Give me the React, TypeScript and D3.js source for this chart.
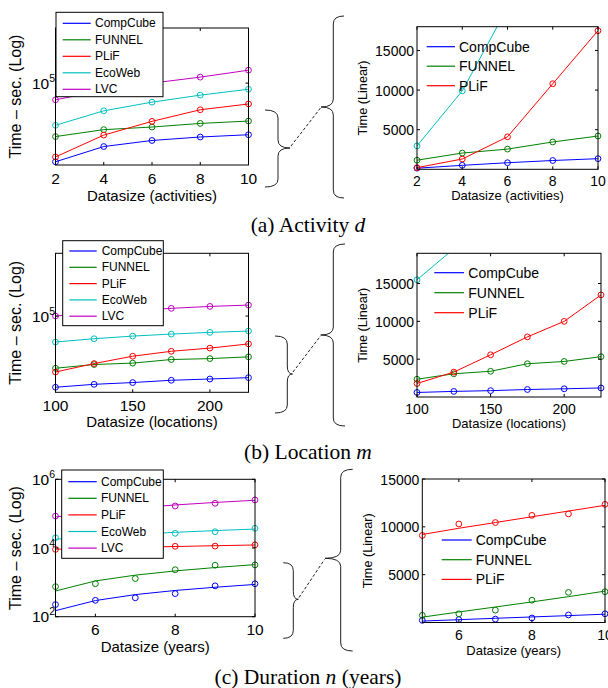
import * as d3 from "d3";
import { useEffect, useRef } from "react";

const seriesNames = ["CompCube", "FUNNEL", "PLiF", "EcoWeb", "LVC"];
const seriesColors = ["#0000ff", "#008000", "#ff0000", "#00bfbf", "#bf00bf"];

// (a) Activity d
const activityX = [2, 4, 6, 8, 10];
const activityCompCube = [140, 500, 830, 1110, 1340];
const activityFunnel = [1150, 2050, 2550, 3450, 4200];
const activityPlif = [210, 1300, 4100, 10800, 17500];
const activityEcoWeb = [2950, 9900, 20400, 36600, 60000];
const activityLvc = [24800, 55000, 100000, 165000, 295000];

// (b) Location m
const locationX = [100, 125, 150, 175, 200, 225];
const locationCompCube = [600, 740, 840, 990, 1085, 1195];
const locationFunnel = [2350, 3070, 3400, 4400, 4700, 5330];
const locationPlif = [1790, 3290, 5580, 7950, 10000, 13500];
const locationEcoWeb = [15500, 19600, 23700, 27400, 30900, 34000];
const locationLvc = [100000, 125000, 150000, 174000, 200000, 220000];

// (c) Duration n (years): measured points + fitted lines
const durationX = [5, 6, 7, 8, 9, 10];
const durationCompCube = [225, 300, 355, 470, 790, 910];
const durationFunnel = [750, 910, 1290, 2330, 3150, 3220];
const durationPlif = [9100, 10300, 10450, 11200, 11350, 12350];
const durationEcoWeb = [19900, 22000, 25000, 26800, 29800, 37400];
const durationLvc = [85000, 110000, 140000, 167000, 200000, 251000];
const durationCompCubeFit = [150, 295, 440, 580, 720, 870];
const durationFunnelFit = [560, 1100, 1620, 2150, 2700, 3280];
const durationPlifFit = [9200, 9850, 10450, 11050, 11650, 12250];
const durationEcoWebFit = [18000, 21500, 25000, 28600, 32100, 35700];
const durationLvcFit = [80000, 113000, 146000, 179000, 212000, 245000];

const activityTicks = [2, 4, 6, 8, 10];
const locationTicks = [100, 150, 200];
const durationTicks = [6, 8, 10];
const logTicksAB = [1e5];
const logTicksC = [1e2, 1e4, 1e6];
const linearTicks = [5000, 10000, 15000];

const FONT = "'Liberation Sans', Arial, Helvetica, sans-serif";
const SERIF = "'Liberation Serif', 'Times New Roman', serif";

const makeSeries = (vals, fits?) =>
  vals.map((v, i) => ({
    name: seriesNames[i],
    color: seriesColors[i],
    values: v,
    fit: fits ? fits[i] : null,
  }));

function drawPanel(svg, p) {
  const x = d3.scaleLinear().domain(p.xDomain).range([p.left, p.right]);
  const y = p.log
    ? d3.scaleLog().domain(p.yDomain).range([p.bottom, p.top])
    : d3.scaleLinear().domain(p.yDomain).range([p.bottom, p.top]);
  const w = p.right - p.left;
  const h = p.bottom - p.top;

  const defs = svg.append("defs");
  defs
    .append("clipPath")
    .attr("id", `${p.id}-lines`)
    .append("rect")
    .attr("x", p.left)
    .attr("y", p.top)
    .attr("width", w)
    .attr("height", h);
  defs
    .append("clipPath")
    .attr("id", `${p.id}-marks`)
    .append("rect")
    .attr("x", p.left - 5)
    .attr("y", p.top - 5)
    .attr("width", w + 10)
    .attr("height", h + 10);

  const g = svg.append("g");
  const line = d3
    .line()
    .x((d) => x(d.x))
    .y((d) => y(d.y));

  p.series.forEach((s) => {
    const pts = p.xValues.map((v, i) => ({ x: v, y: s.values[i] }));
    const linePts = s.fit
      ? p.xValues.map((v, i) => ({ x: v, y: s.fit[i] }))
      : pts;
    g.append("path")
      .datum(linePts)
      .attr("clip-path", `url(#${p.id}-lines)`)
      .attr("d", line)
      .attr("fill", "none")
      .attr("stroke", s.color)
      .attr("stroke-width", 1);
    g.append("g")
      .attr("clip-path", `url(#${p.id}-marks)`)
      .selectAll("circle")
      .data(pts.filter((d) => d.y >= p.yDomain[0] && d.y <= p.yDomain[1]))
      .join("circle")
      .attr("cx", (d) => x(d.x))
      .attr("cy", (d) => y(d.y))
      .attr("r", 2.9)
      .attr("fill", "none")
      .attr("stroke", s.color)
      .attr("stroke-width", 1);
  });

  // axes box + inward ticks
  const ax = svg.append("g").attr("stroke", "#000").attr("stroke-width", 1);
  ax.append("rect")
    .attr("x", p.left)
    .attr("y", p.top)
    .attr("width", w)
    .attr("height", h)
    .attr("fill", "none");
  const tl = 3;
  p.xTicks.forEach((t) => {
    ax.append("line").attr("x1", x(t)).attr("x2", x(t)).attr("y1", p.bottom).attr("y2", p.bottom - tl);
    ax.append("line").attr("x1", x(t)).attr("x2", x(t)).attr("y1", p.top).attr("y2", p.top + tl);
  });
  p.yTicks.forEach((t) => {
    ax.append("line").attr("x1", p.left).attr("x2", p.left + tl).attr("y1", y(t)).attr("y2", y(t));
    ax.append("line").attr("x1", p.right).attr("x2", p.right - tl).attr("y1", y(t)).attr("y2", y(t));
  });

  // tick labels
  svg
    .append("g")
    .selectAll("text")
    .data(p.xTicks)
    .join("text")
    .attr("x", (d) => x(d))
    .attr("y", p.bottom + p.xTickDy)
    .attr("text-anchor", "middle")
    .attr("font-family", FONT)
    .attr("font-size", p.tickSize)
    .text((d) => d);

  const yt = svg
    .append("g")
    .selectAll("text")
    .data(p.yTicks)
    .join("text")
    .attr("x", p.left - p.yTickGap)
    .attr("y", (d) => y(d) + 5.5)
    .attr("text-anchor", "end")
    .attr("font-family", FONT)
    .attr("font-size", p.tickSize);
  if (p.log) {
    yt.each(function (d) {
      const t = d3.select(this);
      t.append("tspan").text("10");
      t.append("tspan")
        .attr("dy", -7)
        .attr("font-size", 10.5)
        .text(Math.round(Math.log10(d)));
    });
  } else {
    yt.text((d) => d);
  }

  // axis labels
  svg
    .append("text")
    .attr("x", (p.left + p.right) / 2)
    .attr("y", p.xLabelY)
    .attr("text-anchor", "middle")
    .attr("dominant-baseline", "central")
    .attr("font-family", FONT)
    .attr("font-size", p.labelSize)
    .text(p.xLabel);
  svg
    .append("text")
    .attr("transform", `translate(${p.yLabelX},${(p.top + p.bottom) / 2}) rotate(-90)`)
    .attr("text-anchor", "middle")
    .attr("dominant-baseline", "central")
    .attr("font-family", FONT)
    .attr("font-size", p.yLabelSize)
    .text(p.yLabel);

  // legend
  const lg = p.legend;
  const leg = svg.append("g");
  if (lg.box) {
    leg.append("rect")
      .attr("x", lg.box[0])
      .attr("y", lg.box[1])
      .attr("width", lg.box[2] - lg.box[0])
      .attr("height", lg.box[3] - lg.box[1])
      .attr("fill", "#fff")
      .attr("stroke", "#000")
      .attr("stroke-width", 1);
  }
  p.series.slice(0, lg.n).forEach((s, i) => {
    const ly = lg.y0 + i * lg.dy;
    leg.append("line")
      .attr("x1", lg.lx0)
      .attr("x2", lg.lx1)
      .attr("y1", ly)
      .attr("y2", ly)
      .attr("stroke", s.color)
      .attr("stroke-width", 1.2);
    leg.append("text")
      .attr("x", lg.tx)
      .attr("y", ly)
      .attr("dominant-baseline", "central")
      .attr("font-family", FONT)
      .attr("font-size", lg.size)
      .text(s.name);
  });
}

// "}" or "{" brace: ends at xe, spine at xm, tip at xt
function drawBrace(svg, xe, xm, xt, yTop, yTip, yBot) {
  const r = 8;
  const d = `M${xe},${yTop} Q${xm},${yTop} ${xm},${yTop + r} L${xm},${yTip - r} Q${xm},${yTip} ${xt},${yTip} Q${xm},${yTip} ${xm},${yTip + r} L${xm},${yBot - r} Q${xm},${yBot} ${xe},${yBot}`;
  svg.append("path").attr("d", d).attr("fill", "none").attr("stroke", "#222").attr("stroke-width", 1);
}

function drawDash(svg, x1, y1, x2, y2) {
  svg.append("line")
    .attr("x1", x1).attr("y1", y1).attr("x2", x2).attr("y2", y2)
    .attr("stroke", "#222").attr("stroke-width", 1).attr("stroke-dasharray", "3,2");
}

function drawCaption(svg, y, pre, v, post) {
  const t = svg.append("text")
    .attr("x", 308)
    .attr("y", y)
    .attr("text-anchor", "middle")
    .attr("dominant-baseline", "central")
    .attr("font-family", SERIF)
    .attr("font-size", 21.5);
  t.append("tspan").text(pre);
  t.append("tspan").attr("font-style", "italic").text(v);
  if (post) t.append("tspan").text(post);
}

const App = () => {
  const ref = useRef(null);

  useEffect(() => {
    const svg = d3.select(ref.current);
    svg.selectAll("*").remove();

    const activitySeries = makeSeries([activityCompCube, activityFunnel, activityPlif, activityEcoWeb, activityLvc]);
    const locationSeries = makeSeries([locationCompCube, locationFunnel, locationPlif, locationEcoWeb, locationLvc]);
    const durationSeries = makeSeries(
      [durationCompCube, durationFunnel, durationPlif, durationEcoWeb, durationLvc],
      [durationCompCubeFit, durationFunnelFit, durationPlifFit, durationEcoWebFit, durationLvcFit]
    );

    const leftCommon = { log: true, tickSize: 15.5, xTickDy: 18.5, yTickGap: 0.5, labelSize: 15, yLabelSize: 16, yLabelX: 15.7, yLabel: "Time – sec. (Log)" };
    const rightCommon = { log: false, tickSize: 14, xTickDy: 17, yTickGap: 3, labelSize: 13, yLabelSize: 12.7, yLabel: "Time (Linear)" };

    drawPanel(svg, {
      ...leftCommon, id: "aL", left: 55.5, right: 248.5, top: 28, bottom: 165,
      xDomain: [2, 10], yDomain: [107, 1.0e7], xValues: activityX, xTicks: activityTicks, yTicks: logTicksAB,
      series: activitySeries, xLabel: "Datasize (activities)", xLabelY: 195,
      legend: { box: [56, 12.3, 163, 96.7], n: 5, y0: 23.3, dy: 16.5, lx0: 62.7, lx1: 90.7, tx: 95, size: 12 },
    });
    drawPanel(svg, {
      ...rightCommon, id: "aR", left: 417, right: 598, top: 26.7, bottom: 169.3,
      xDomain: [2, 10], yDomain: [0, 18000], xValues: activityX, xTicks: activityTicks, yTicks: linearTicks,
      series: activitySeries, xLabel: "Datasize (activities)", xLabelY: 195.5, yLabelX: 363.3,
      legend: { n: 3, y0: 46.7, dy: 19.5, lx0: 426.7, lx1: 455, tx: 459, size: 14 },
    });

    drawPanel(svg, {
      ...leftCommon, id: "bL", left: 55.5, right: 248.5, top: 253.3, bottom: 392.3,
      xDomain: [100, 225], yDomain: [417, 9.1e6], xValues: locationX, xTicks: locationTicks, yTicks: logTicksAB,
      series: locationSeries, xLabel: "Datasize (locations)", xLabelY: 421,
      legend: { box: [62.7, 240.7, 163.3, 325.7], n: 5, y0: 251, dy: 16.3, lx0: 69.3, lx1: 96.7, tx: 101.7, size: 12 },
    });
    drawPanel(svg, {
      ...rightCommon, id: "bR", left: 417, right: 601, top: 253.3, bottom: 397,
      xDomain: [100, 225], yDomain: [0, 19000], xValues: locationX, xTicks: locationTicks, yTicks: linearTicks,
      series: locationSeries, xLabel: "Datasize (locations)", xLabelY: 423, yLabelX: 363.3,
      legend: { n: 3, y0: 272.7, dy: 20, lx0: 434.3, lx1: 464, tx: 468.3, size: 14 },
    });

    drawPanel(svg, {
      ...leftCommon, id: "cL", left: 55.5, right: 255, top: 479.3, bottom: 616.7,
      xDomain: [5, 10], yDomain: [100, 1e6], xValues: durationX, xTicks: durationTicks, yTicks: logTicksC,
      series: durationSeries, xLabel: "Datasize (years)", xLabelY: 646.5,
      legend: { box: [61.7, 470, 163.3, 558.3], n: 5, y0: 481.7, dy: 16.6, lx0: 68.3, lx1: 96.7, tx: 101, size: 12 },
    });
    drawPanel(svg, {
      ...rightCommon, id: "cR", left: 422.3, right: 605, top: 479, bottom: 622.5,
      xDomain: [5, 10], yDomain: [0, 15000], xValues: durationX, xTicks: durationTicks, yTicks: linearTicks,
      series: durationSeries, xLabel: "Datasize (years)", xLabelY: 650.5, yLabelX: 368.3,
      legend: { n: 3, y0: 540, dy: 19.7, lx0: 441.7, lx1: 471.7, tx: 475.7, size: 14 },
    });

    // zoom braces linking log plot to linear plot
    drawBrace(svg, 265, 278, 290, 110, 148, 187);
    drawBrace(svg, 344, 333.3, 321, 16, 107, 198);
    drawDash(svg, 291, 146, 320.5, 108);

    drawBrace(svg, 275, 287.3, 292.5, 336, 374, 413);
    drawBrace(svg, 345, 333.3, 320.7, 244, 335, 426);
    drawDash(svg, 293, 372, 320.5, 336);

    drawBrace(svg, 283.3, 293.3, 298.3, 562.7, 599.3, 638.3);
    drawBrace(svg, 352.7, 340.7, 325, 469.3, 558.3, 651);
    drawDash(svg, 299, 597.5, 324.5, 559.5);

    drawCaption(svg, 225, "(a) Activity ", "d", "");
    drawCaption(svg, 452, "(b) Location ", "m", "");
    drawCaption(svg, 677, "(c) Duration ", "n", " (years)");
  }, []);

  return (
    <svg
      ref={ref}
      width={608}
      height={688}
      style={{ position: "absolute", left: 0, top: 0, background: "#fff" }}
    />
  );
};

export default App;
